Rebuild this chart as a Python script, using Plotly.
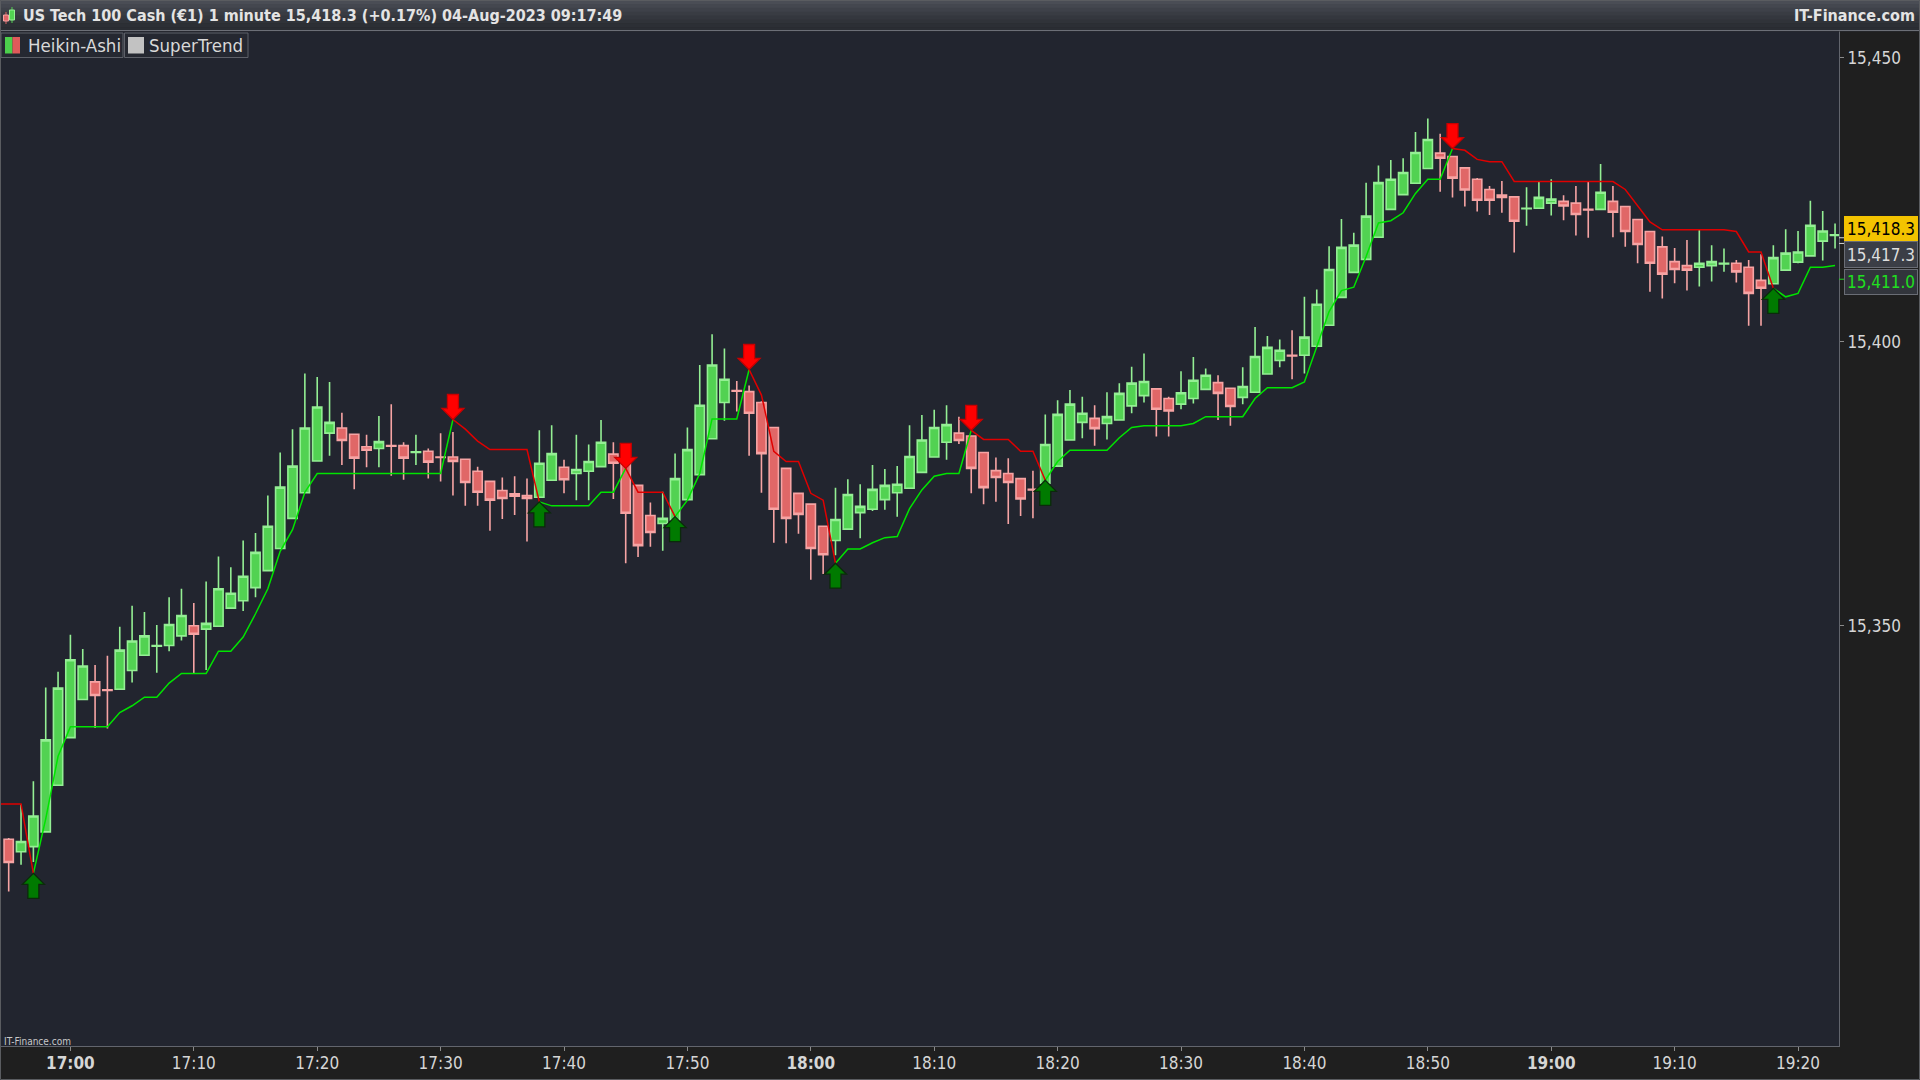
import plotly.graph_objects as go

# ---------------- data ----------------
minutes = list(range(-5, 144))  # minutes after 17:00

ha_open = [15312.4, 15310.2, 15311.1, 15313.7, 15321.9, 15330.3, 15337.0, 15340.1, 15338.7, 15338.8,
           15342.1, 15344.8, 15346.4, 15346.5, 15348.2, 15350.0, 15349.4, 15349.9, 15353.1, 15354.4,
           15356.7, 15359.7, 15363.6, 15368.9, 15373.4, 15379.0, 15383.9, 15384.8, 15383.7, 15381.5,
           15381.2, 15381.7, 15381.7, 15380.5, 15380.7, 15379.7, 15379.7, 15379.3, 15377.2, 15375.4,
           15373.8, 15373.2, 15372.9, 15372.6, 15375.6, 15377.9, 15376.8, 15377.2, 15378.0, 15380.2,
           15379.5, 15374.7, 15369.4, 15368.0, 15368.6, 15372.2, 15376.6, 15382.9, 15389.3, 15391.4,
           15391.2, 15389.3, 15384.9, 15377.7, 15373.3, 15371.4, 15367.5, 15365.0, 15367.0, 15369.9,
           15370.5, 15372.2, 15373.4, 15374.2, 15377.0, 15379.7, 15382.3, 15383.9, 15383.4, 15380.5,
           15377.3, 15376.8, 15375.9, 15374.0, 15375.1, 15378.1, 15382.7, 15385.8, 15386.5, 15385.6,
           15386.2, 15388.7, 15390.5, 15391.7, 15390.0, 15389.0, 15390.0, 15391.6, 15392.8, 15391.8,
           15390.2, 15391.1, 15394.3, 15396.7, 15397.6, 15397.6, 15399.2, 15402.9, 15407.8, 15412.2,
           15414.5, 15418.4, 15423.3, 15425.9, 15427.9, 15430.5, 15433.2, 15432.6, 15430.6, 15428.6,
           15426.8, 15425.8, 15425.5, 15423.4, 15423.5, 15424.4, 15424.7, 15424.4, 15423.3, 15423.3,
           15424.7, 15423.8, 15421.5, 15419.4, 15416.7, 15414.1, 15413.4, 15413.1, 15413.4, 15413.7,
           15413.8, 15413.1, 15410.8, 15410.2, 15412.6, 15414.0, 15415.1, 15417.7, 15418.7]

ha_high = [15312.6, 15318.5, 15322.6, 15339.1, 15341.9, 15348.4, 15345.9, 15343.1, 15344.7, 15349.8,
           15353.5, 15352.4, 15350.1, 15355.0, 15356.5, 15354.0, 15357.8, 15362.2, 15360.3, 15365.0,
           15366.3, 15372.9, 15380.5, 15384.6, 15394.4, 15393.8, 15392.9, 15387.5, 15383.7, 15383.6,
           15386.9, 15389.0, 15382.3, 15383.6, 15381.2, 15383.9, 15384.1, 15379.4, 15378.0, 15375.4,
           15376.1, 15376.3, 15375.9, 15384.4, 15385.3, 15379.2, 15383.6, 15381.9, 15386.2, 15382.3,
           15379.7, 15374.7, 15371.7, 15373.6, 15380.3, 15384.9, 15395.9, 15401.3, 15398.8, 15393.1,
           15392.3, 15389.5, 15384.9, 15377.7, 15373.3, 15371.4, 15367.5, 15374.3, 15375.8, 15374.9,
           15378.3, 15377.6, 15378.1, 15385.3, 15387.1, 15388.0, 15388.8, 15386.8, 15383.5, 15380.5,
           15379.6, 15379.5, 15375.9, 15377.3, 15387.2, 15389.7, 15391.5, 15390.3, 15388.8, 15391.1,
           15392.7, 15395.6, 15397.9, 15391.7, 15390.3, 15394.8, 15397.3, 15395.3, 15394.1, 15391.8,
           15395.5, 15402.6, 15401.0, 15400.4, 15402.0, 15407.9, 15409.2, 15416.8, 15421.6, 15419.2,
           15428.0, 15431.0, 15432.0, 15432.3, 15436.9, 15439.3, 15436.6, 15432.7, 15430.6, 15428.8,
           15427.4, 15428.3, 15425.5, 15427.2, 15428.2, 15428.6, 15425.8, 15427.4, 15428.2, 15431.3,
           15427.4, 15423.8, 15421.5, 15419.4, 15418.5, 15416.5, 15417.9, 15419.8, 15417.0, 15416.4,
           15414.4, 15414.4, 15415.4, 15417.0, 15419.8, 15419.5, 15424.8, 15423.0, 15420.8]

ha_low = [15303.2, 15307.9, 15308.4, 15313.7, 15321.9, 15330.3, 15337.0, 15332.0, 15331.9, 15338.8,
          15340.0, 15344.8, 15341.7, 15345.5, 15347.4, 15341.6, 15342.2, 15349.9, 15353.1, 15352.6,
          15355.0, 15359.7, 15363.6, 15368.9, 15373.4, 15379.0, 15379.9, 15378.3, 15374.0, 15377.9,
          15377.9, 15376.4, 15375.7, 15378.3, 15375.9, 15375.4, 15372.9, 15371.1, 15371.1, 15366.7,
          15368.8, 15369.5, 15364.8, 15372.6, 15375.6, 15373.3, 15372.1, 15372.1, 15378.0, 15372.3,
          15361.0, 15362.1, 15363.9, 15363.2, 15368.6, 15372.2, 15376.6, 15382.9, 15386.1, 15387.7,
          15379.9, 15373.4, 15364.6, 15364.5, 15366.2, 15358.1, 15359.1, 15362.4, 15367.0, 15365.4,
          15370.2, 15370.4, 15369.2, 15374.2, 15377.0, 15379.7, 15379.2, 15382.0, 15373.3, 15371.4,
          15371.8, 15367.9, 15369.3, 15368.9, 15375.1, 15378.1, 15382.7, 15383.0, 15381.7, 15382.8,
          15386.2, 15387.4, 15389.3, 15383.3, 15383.3, 15388.1, 15389.1, 15391.6, 15386.2, 15385.2,
          15389.0, 15391.1, 15394.3, 15395.5, 15393.4, 15394.4, 15399.2, 15402.9, 15407.8, 15412.2,
          15414.5, 15418.4, 15423.3, 15425.9, 15427.9, 15430.5, 15426.4, 15425.4, 15423.8, 15422.9,
          15422.3, 15422.7, 15415.7, 15420.4, 15423.5, 15422.2, 15421.4, 15418.7, 15418.3, 15423.3,
          15418.4, 15416.7, 15413.8, 15408.8, 15407.6, 15410.3, 15409.0, 15409.7, 15410.6, 15412.3,
          15410.4, 15402.8, 15402.8, 15410.2, 15412.6, 15413.8, 15415.1, 15414.3, 15416.4]

ha_close = [15308.3, 15312.0, 15316.5, 15329.9, 15339.0, 15344.0, 15342.9, 15337.7, 15338.6, 15345.7,
            15347.3, 15348.2, 15346.5, 15350.2, 15351.8, 15348.5, 15350.4, 15356.5, 15355.7, 15358.7,
            15362.9, 15367.5, 15374.4, 15378.1, 15384.8, 15388.5, 15385.8, 15382.6, 15379.5, 15380.9,
            15382.4, 15381.6, 15379.5, 15380.6, 15378.8, 15379.6, 15378.9, 15375.2, 15373.5, 15372.1,
            15372.4, 15372.8, 15372.4, 15378.6, 15380.3, 15375.7, 15377.5, 15378.9, 15382.3, 15378.6,
            15369.8, 15364.1, 15366.4, 15368.9, 15375.9, 15381.0, 15388.8, 15395.9, 15393.4, 15391.3,
            15387.4, 15380.3, 15370.5, 15368.9, 15369.6, 15363.6, 15362.5, 15368.7, 15373.1, 15371.0,
            15374.0, 15374.7, 15374.9, 15379.8, 15382.7, 15384.9, 15385.4, 15382.6, 15377.7, 15374.3,
            15376.1, 15375.2, 15372.3, 15373.9, 15381.9, 15387.2, 15389.0, 15387.4, 15384.7, 15386.8,
            15390.9, 15392.7, 15393.0, 15388.1, 15387.8, 15391.0, 15393.2, 15394.1, 15390.9, 15388.6,
            15392.1, 15397.4, 15399.0, 15398.5, 15397.5, 15400.8, 15406.6, 15412.7, 15416.6, 15417.0,
            15422.1, 15428.0, 15428.6, 15429.8, 15433.3, 15435.6, 15432.3, 15428.8, 15426.7, 15424.9,
            15424.9, 15425.4, 15421.2, 15423.5, 15425.4, 15425.1, 15423.9, 15422.4, 15423.2, 15426.3,
            15422.8, 15419.4, 15417.1, 15413.8, 15411.9, 15412.7, 15412.6, 15413.8, 15414.1, 15413.8,
            15412.3, 15408.5, 15409.4, 15414.8, 15415.6, 15415.8, 15420.5, 15419.5, 15418.8]

# SuperTrend (one point per minute, starting one minute before the first candle)
st_minutes = list(range(-6, 144))
st_value = [15318.6, 15318.6, 15318.6, 15306.4, 15316.0, 15327.0, 15332.2, 15332.2, 15332.2, 15332.2,
            15334.7, 15335.9, 15337.4, 15337.4, 15339.9, 15341.6, 15341.6, 15341.6, 15345.5, 15345.5,
            15348.0, 15352.1, 15356.5, 15363.1, 15366.9, 15373.5, 15376.8, 15376.8, 15376.8, 15376.8,
            15376.8, 15376.8, 15376.8, 15376.8, 15376.8, 15376.8, 15376.8, 15386.3, 15384.6, 15382.5,
            15381.0, 15381.0, 15381.0, 15381.0, 15371.8, 15371.1, 15371.1, 15371.1, 15371.1, 15373.5,
            15373.5, 15377.7, 15373.5, 15373.5, 15373.5, 15369.2, 15372.1, 15376.8, 15386.4, 15386.4,
            15386.4, 15395.1, 15390.6, 15380.7, 15378.9, 15378.9, 15373.3, 15372.1, 15361.0, 15363.5,
            15363.5, 15364.6, 15365.5, 15365.7, 15370.6, 15373.9, 15376.3, 15376.8, 15376.8, 15384.4,
            15382.8, 15382.8, 15382.8, 15380.7, 15380.7, 15375.6, 15378.9, 15380.9, 15380.9, 15380.9,
            15380.9, 15383.1, 15384.9, 15385.2, 15385.2, 15385.2, 15385.2, 15385.6, 15386.8, 15386.8,
            15386.8, 15386.8, 15390.0, 15391.9, 15391.9, 15391.9, 15392.9, 15399.1, 15405.3, 15409.0,
            15409.6, 15415.0, 15420.9, 15421.3, 15422.7, 15426.1, 15428.6, 15428.6, 15434.0, 15433.7,
            15432.1, 15431.7, 15431.7, 15428.2, 15428.2, 15428.2, 15428.2, 15428.2, 15428.2, 15428.2,
            15428.2, 15428.2, 15426.8, 15423.9, 15421.1, 15419.7, 15419.7, 15419.7, 15419.7, 15419.7,
            15419.7, 15419.4, 15415.8, 15415.8, 15409.4, 15407.9, 15408.5, 15413.1, 15413.1, 15413.4]

# (minute where the trend starts, +1 = up / -1 = down)
trend_changes = [(-6, -1), (-3, 1), (31, -1), (38, 1), (45, -1), (49, 1),
                 (55, -1), (62, 1), (73, -1), (79, 1), (112, -1), (138, 1)]

tick_minutes = [0, 10, 20, 30, 40, 50, 60, 70, 80, 90, 100, 110, 120, 130, 140]
tick_labels = ["17:00", "17:10", "17:20", "17:30", "17:40", "17:50", "18:00", "18:10",
               "18:20", "18:30", "18:40", "18:50", "19:00", "19:10", "19:20"]
bold_labels = ["17:00", "18:00", "19:00"]
price_ticks = [15350, 15400, 15450]
price_tick_labels = ["15,350", "15,400", "15,450"]

title_text = "US Tech 100 Cash (\u20ac1) 1 minute 15,418.3 (+0.17%) 04-Aug-2023 09:17:49"
last_price = 15418.3
ha_last = 15417.3
st_last = 15411.0

# ---------------- derived ----------------
trend = []
for m in st_minutes:
    d = None
    for start, direction in trend_changes:
        if m >= start:
            d = direction
    trend.append(d)

green_y, red_y = [], []
for j, v in enumerate(st_value):
    d = trend[j]
    dp = trend[j - 1] if j > 0 else d
    green_y.append(v if (d == 1 or dp == 1) else None)
    red_y.append(v if (d == -1 or dp == -1) else None)

# ---------------- geometry (pixels) ----------------
W, H = 1920, 1080
PL, PR, PT, PB = 0, 1839, 31, 1046
FONT = "DejaVu Sans Condensed, DejaVu Sans, sans-serif"


def px(x):
    return (x - PL) / (PR - PL)


def py(y):
    return (PB - y) / (PB - PT)


fig = go.Figure()

fig.add_trace(go.Candlestick(
    x=minutes, open=ha_open, high=ha_high, low=ha_low, close=ha_close,
    increasing=dict(fillcolor="#52d252", line=dict(color="#94ef94", width=1.6)),
    decreasing=dict(fillcolor="#e06767", line=dict(color="#f6a4a4", width=1.6)),
    whiskerwidth=0, showlegend=False, hoverinfo="skip"))

fig.add_trace(go.Scatter(x=st_minutes, y=green_y, mode="lines", connectgaps=False,
                         line=dict(color="#00e400", width=1.5), showlegend=False, hoverinfo="skip"))
fig.add_trace(go.Scatter(x=st_minutes, y=red_y, mode="lines", connectgaps=False,
                         line=dict(color="#e00000", width=1.5), showlegend=False, hoverinfo="skip"))

shapes = []
# signal arrows
up_path = "M0,0 L11,-11 L5.5,-11 L5.5,-25 L-5.5,-25 L-5.5,-11 L-11,-11 Z"
down_path = "M0,0 L11,11 L5.5,11 L5.5,25 L-5.5,25 L-5.5,11 L-11,11 Z"
for start, direction in trend_changes[1:]:
    j = st_minutes.index(start)
    shapes.append(dict(type="path", xref="x", yref="y", xsizemode="pixel", ysizemode="pixel",
                       xanchor=start, yanchor=st_value[j],
                       path=up_path if direction == 1 else down_path,
                       fillcolor="#007a00" if direction == 1 else "#ff0000",
                       line=dict(color="#0b2a0b" if direction == 1 else "#c80000", width=1.3),
                       layer="above"))

# title bar gradient
bands = ["#4a4d55", "#44474f", "#3e4149", "#393c43", "#34373e", "#303339", "#2c2f35", "#2a2d33"]
bh = PT / len(bands)
for i, c in enumerate(bands):
    shapes.append(dict(type="rect", xref="paper", yref="paper", x0=px(0), x1=px(W),
                       y0=py(bh * (i + 1) + 0.5), y1=py(bh * i), fillcolor=c, line=dict(width=0),
                       layer="above"))
shapes.append(dict(type="line", xref="paper", yref="paper", x0=px(0), x1=px(W), y0=py(PT - 0.5),
                   y1=py(PT - 0.5), line=dict(color="#6c6f77", width=1), layer="above"))
# small candle icon in the title bar
shapes.append(dict(type="line", xref="paper", yref="paper", x0=px(6), x1=px(6), y0=py(24), y1=py(12),
                   line=dict(color="#e06767", width=1), layer="above"))
shapes.append(dict(type="rect", xref="paper", yref="paper", x0=px(3.5), x1=px(8.5), y0=py(21), y1=py(15),
                   fillcolor="#e06767", line=dict(color="#f6a4a4", width=1), layer="above"))
shapes.append(dict(type="line", xref="paper", yref="paper", x0=px(12), x1=px(12), y0=py(23), y1=py(7),
                   line=dict(color="#52d252", width=1), layer="above"))
shapes.append(dict(type="rect", xref="paper", yref="paper", x0=px(9.5), x1=px(14.5), y0=py(20), y1=py(10),
                   fillcolor="#52d252", line=dict(color="#94ef94", width=1), layer="above"))

# legend boxes
for x0, x1 in [(1, 123), (124.5, 248)]:
    shapes.append(dict(type="rect", xref="paper", yref="paper", x0=px(x0), x1=px(x1), y0=py(57.5), y1=py(33),
                       fillcolor="#252831", line=dict(color="#5d6068", width=1), layer="above"))
shapes.append(dict(type="rect", xref="paper", yref="paper", x0=px(5), x1=px(12.5), y0=py(53.5), y1=py(37),
                   fillcolor="#4ccf4c", line=dict(width=0), layer="above"))
shapes.append(dict(type="rect", xref="paper", yref="paper", x0=px(12.5), x1=px(20), y0=py(53.5), y1=py(37),
                   fillcolor="#e05a5a", line=dict(width=0), layer="above"))
shapes.append(dict(type="rect", xref="paper", yref="paper", x0=px(128), x1=px(144), y0=py(53.5), y1=py(37),
                   fillcolor="#c2c2c2", line=dict(width=0), layer="above"))

# connectors to right price labels
for val, col in [(last_price, "#d8d8d8"), (ha_last, "#d8d8d8"), (st_last, "#1fd81f")]:
    shapes.append(dict(type="line", xref="paper", yref="y", x0=px(1839), x1=px(1844), y0=val, y1=val,
                       line=dict(color=col, width=1), layer="above"))

# outer border
shapes.append(dict(type="rect", xref="paper", yref="paper", x0=px(0.5), x1=px(W - 0.5), y0=py(H - 0.5),
                   y1=py(0.5), line=dict(color="#5a5c60", width=1), layer="above"))

annotations = [
    dict(text="<b>" + title_text + "</b>", xref="paper", yref="paper", x=px(21), y=py(15.5),
         xanchor="left", yanchor="middle", showarrow=False, font=dict(family=FONT, size=16, color="#e4e4e4")),
    dict(text="<b>IT-Finance.com</b>", xref="paper", yref="paper", x=px(1917), y=py(15.5),
         xanchor="right", yanchor="middle", showarrow=False, font=dict(family=FONT, size=16, color="#e4e4e4")),
    dict(text="Heikin-Ashi", xref="paper", yref="paper", x=px(26), y=py(45.5),
         xanchor="left", yanchor="middle", showarrow=False, font=dict(family=FONT, size=18.5, color="#d9d9d9")),
    dict(text="SuperTrend", xref="paper", yref="paper", x=px(147), y=py(45.5),
         xanchor="left", yanchor="middle", showarrow=False, font=dict(family=FONT, size=18.5, color="#d9d9d9")),
    dict(text="IT-Finance.com", xref="paper", yref="paper", x=px(2), y=py(1041),
         xanchor="left", yanchor="middle", showarrow=False, font=dict(family=FONT, size=10, color="#c8c8c8")),
    dict(text=f"{last_price:,.1f}", xref="paper", yref="y", x=px(1844), y=last_price, yshift=9,
         xanchor="left", yanchor="middle", showarrow=False, width=70, height=22, align="center",
         bgcolor="#f3c300", bordercolor="#f3c300", borderpad=1,
         font=dict(family=FONT, size=17, color="#000000")),
    dict(text=f"{ha_last:,.1f}", xref="paper", yref="y", x=px(1844), y=ha_last, yshift=-11,
         xanchor="left", yanchor="middle", showarrow=False, width=70, height=23, align="center",
         bgcolor="#3b3e46", bordercolor="#6a6d75", borderpad=1,
         font=dict(family=FONT, size=17, color="#dedede")),
    dict(text=f"{st_last:,.1f}", xref="paper", yref="y", x=px(1844), y=st_last, yshift=-3,
         xanchor="left", yanchor="middle", showarrow=False, width=70, height=22, align="center",
         bgcolor="#32353c", bordercolor="#6a6d75", borderpad=1,
         font=dict(family=FONT, size=17, color="#1fe01f")),
]

ticktext = [("<b>" + t + "</b>") if t in bold_labels else t for t in tick_labels]

fig.update_layout(
    width=W, height=H,
    margin=dict(l=PL, r=W - PR, t=PT, b=H - PB, autoexpand=False),
    paper_bgcolor="#1f1f1f", plot_bgcolor="#22252f",
    boxgap=0.25, boxgroupgap=0,
    showlegend=False,
    shapes=shapes, annotations=annotations,
    xaxis=dict(range=[-5.705, 143.32], tickmode="array", tickvals=tick_minutes, ticktext=ticktext,
               showgrid=False, zeroline=False, showline=True, linecolor="#62656d", linewidth=1,
               ticks="outside", ticklen=4, tickcolor="#8a8a8a", rangeslider=dict(visible=False),
               ticklabelstandoff=-2,
               tickfont=dict(family=FONT, size=17, color="#d6d6d6"), automargin=False, fixedrange=True),
    yaxis=dict(side="right", range=[15276.0, 15454.7], tickmode="array", tickvals=price_ticks,
               ticktext=price_tick_labels, showgrid=False, zeroline=False, showline=True,
               linecolor="#62656d", linewidth=1, ticks="outside", ticklen=4, tickcolor="#8a8a8a",
               tickfont=dict(family=FONT, size=17, color="#d6d6d6"), automargin=False, fixedrange=True),
)

fig.write_html("out.html", config={"displayModeBar": False},
               post_script="document.body.style.margin='0px';document.body.style.overflow='hidden';")
